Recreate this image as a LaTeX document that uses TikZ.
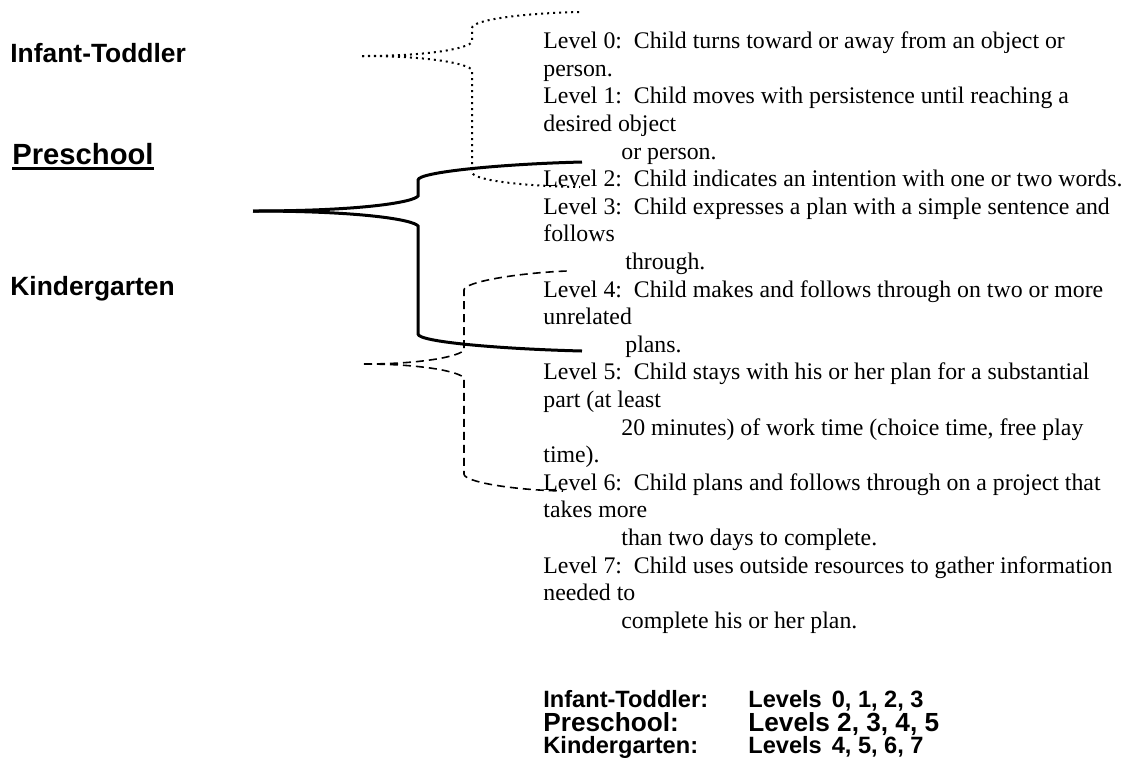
\documentclass[tikz,border=0pt]{standalone}
\usepackage{fontspec}
\setmainfont{Liberation Serif}
\newfontfamily\labelfont{Liberation Sans}
\begin{document}
\begin{tikzpicture}[x=0.5pt,y=-0.5pt]
        \tikzstyle{level} = [anchor=base west, align=left, inner sep=0pt, font=\fontsize{11.9}{13.8}\selectfont]
        \tikzstyle{stage} = [anchor=base west, inner sep=0pt, font=\labelfont\bfseries\fontsize{13.2}{15}\selectfont]
        \tikzstyle{tally} = [anchor=base west, inner sep=0pt, font=\labelfont\bfseries\fontsize{11.8}{14}\selectfont]
        \tikzstyle{tallybig} = [tally, font=\labelfont\bfseries\fontsize{13.1}{15}\selectfont]
        \tikzstyle{itbrace} = [line width=1pt, dash pattern=on 1pt off 2pt]
        \tikzstyle{psbrace} = [line width=1.5pt]
        \tikzstyle{kgbrace} = [line width=0.8pt, dash pattern=on 4pt off 2.5pt]
        \useasboundingbox (0,0) rectangle (1132,773);
        % age groups
        \node[stage] (itLabel) at (10,62) {Infant-Toddler};
        \node[stage, font=\labelfont\bfseries\fontsize{14.6}{16}\selectfont] (psLabel) at (12,164) {Preschool};
        \draw[line width=1.5pt] ([yshift=-2.2pt]psLabel.base west) -- ([yshift=-2.2pt]psLabel.base east);
        \node[stage] (kgLabel) at (10,295) {Kindergarten};
        % levels (placed at the baseline of their last line)
        \node[level] (lev0) at (543,76.2) {Level 0:\ \ Child turns toward or away from an object or\\person.};
        \node[level] (lev1) at (543,159.0) {Level 1:\ \ Child moves with persistence until reaching a\\desired object\\\hspace*{39pt}or person.};
        \node[level] (lev2) at (543,186.6) {Level 2:\ \ Child indicates an intention with one or two words.};
        \node[level] (lev3) at (543,269.4) {Level 3:\ \ Child expresses a plan with a simple sentence and\\follows\\\hspace*{41pt}through.};
        \node[level] (lev4) at (543,352.2) {Level 4:\ \ Child makes and follows through on two or more\\unrelated\\\hspace*{41pt}plans.};
        \node[level] (lev5) at (543,462.6) {Level 5:\ \ Child stays with his or her plan for a substantial\\part (at least\\\hspace*{39pt}20 minutes) of work time (choice time, free play\\time).};
        \node[level] (lev6) at (543,545.4) {Level 6:\ \ Child plans and follows through on a project that\\takes more\\\hspace*{39pt}than two days to complete.};
        \node[level] (lev7) at (543,628.2) {Level 7:\ \ Child uses outside resources to gather information\\needed to\\\hspace*{39pt}complete his or her plan.};
        % brace ends
        \coordinate (itTip) at (362,56);
        \coordinate (itTop) at (582,12);
        \coordinate (itBot) at (580,187);
        \coordinate (psTip) at (253,211);
        \coordinate (psTop) at (582,162);
        \coordinate (psBot) at (582,351);
        \coordinate (kgTip) at (364,364);
        \coordinate (kgTop) at (567,271);
        \coordinate (kgBot) at (563,491);
        % braces
        \draw[itbrace] (itTip) .. controls +(70,0) and +(-4,6) .. (472,42) -- (472,28) .. controls +(0,-8) and +(-60,1) .. (itTop);
        \draw[itbrace] (itTip) .. controls +(70,0) and +(-4,-6) .. (472,70) -- (472,172) .. controls +(0,8) and +(-60,-1) .. (itBot);
        \draw[psbrace] (psTip) .. controls +(110,0) and +(-4,6) .. (418,196) -- (418,180) .. controls +(0,-8) and +(-80,2) .. (psTop);
        \draw[psbrace] (psTip) .. controls +(110,0) and +(-4,-6) .. (418,226) -- (418,334) .. controls +(0,8) and +(-80,-2) .. (psBot);
        \draw[kgbrace] (kgTip) .. controls +(60,0) and +(-4,6) .. (464,350) -- (464,290) .. controls +(0,-8) and +(-50,2) .. (kgTop);
        \draw[kgbrace] (kgTip) .. controls +(60,0) and +(-4,-6) .. (464,378) -- (464,474) .. controls +(0,8) and +(-50,-1) .. (kgBot);
        % summary
        \node[tally] (itRow) at (543,707) {Infant-Toddler:};
        \node[tally] (itLevels) at (748,707) {Levels\hspace{0.42em}0, 1, 2, 3};
        \node[tallybig] (psRow) at (543,731) {Preschool:};
        \node[tallybig] (psLevels) at (748,731) {Levels 2, 3, 4, 5};
        \node[tally] (kgRow) at (543,753) {Kindergarten:};
        \node[tally] (kgLevels) at (748,753) {Levels\hspace{0.42em}4, 5, 6, 7};
\end{tikzpicture}
\end{document}
